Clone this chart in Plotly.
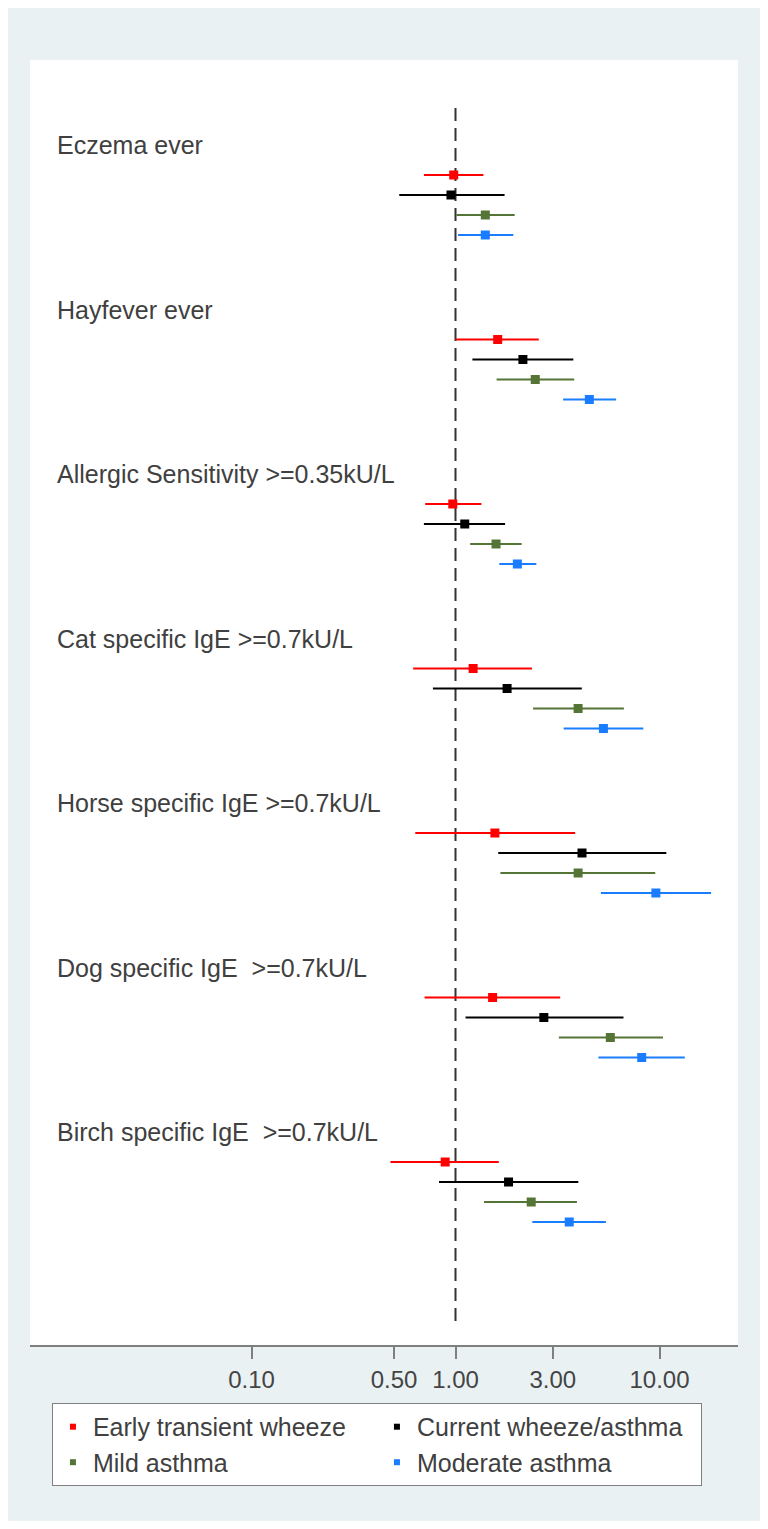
import plotly.graph_objects as go

outcomes = ["Eczema ever", "Hayfever ever", "Allergic Sensitivity >=0.35kU/L",
            "Cat specific IgE >=0.7kU/L", "Horse specific IgE >=0.7kU/L",
            "Dog specific IgE  >=0.7kU/L", "Birch specific IgE  >=0.7kU/L"]

groups = ["Early transient wheeze", "Current wheeze/asthma", "Mild asthma", "Moderate asthma"]
colors = ["#ff0000", "#000000", "#557536", "#1a7cff"]

# odds ratios and 95% CI per phenotype (one value per outcome)
or_early = [0.98, 1.61, 0.97, 1.22, 1.56, 1.52, 0.89]
lo_early = [0.70, 1.00, 0.71, 0.62, 0.635, 0.705, 0.48]
hi_early = [1.37, 2.56, 1.34, 2.37, 3.86, 3.26, 1.63]

or_current = [0.95, 2.14, 1.11, 1.79, 4.17, 2.71, 1.82]
lo_current = [0.53, 1.21, 0.70, 0.775, 1.62, 1.12, 0.83]
hi_current = [1.74, 3.78, 1.75, 4.16, 10.8, 6.66, 4.00]

or_mild = [1.40, 2.46, 1.58, 3.99, 3.99, 5.74, 2.35]
lo_mild = [1.01, 1.59, 1.18, 2.40, 1.66, 3.21, 1.38]
hi_mild = [1.95, 3.82, 2.11, 6.69, 9.53, 10.4, 3.94]

or_mod = [1.40, 4.53, 2.01, 5.31, 9.60, 8.18, 3.61]
lo_mod = [1.03, 3.37, 1.64, 3.39, 5.16, 5.02, 2.38]
hi_mod = [1.92, 6.13, 2.49, 8.33, 17.9, 13.3, 5.46]

tick_vals = [0.1, 0.5, 1, 3, 10]
tick_text = ["0.10", "0.50", "1.00", "3.00", "10.00"]

series = [(or_early, lo_early, hi_early), (or_current, lo_current, hi_current),
          (or_mild, lo_mild, hi_mild), (or_mod, lo_mod, hi_mod)]

GROUP_STEP = 8.225
FONT = "Arial, Liberation Sans, sans-serif"

fig = go.Figure()

# reference line at OR = 1
fig.add_trace(go.Scatter(x=[1, 1], y=[-3.35, 57.65], mode="lines",
                         line=dict(color="#333333", width=2, dash="13px,7px"),
                         showlegend=False, hoverinfo="skip"))

for r, (name, col, (pt, lo, hi)) in enumerate(zip(groups, colors, series)):
    ys = [g * GROUP_STEP + r for g in range(len(outcomes))]
    fig.add_trace(go.Scatter(
        x=pt, y=ys, mode="markers", name=name, showlegend=False,
        marker=dict(symbol="square", size=9, color=col, line=dict(width=0)),
        error_x=dict(type="data", symmetric=False,
                     array=[h - p for h, p in zip(hi, pt)],
                     arrayminus=[p - l for p, l in zip(pt, lo)],
                     color=col, thickness=1.8, width=0)))
    # legend entry
    fig.add_trace(go.Scatter(x=[None], y=[None], mode="markers", name=name,
                             marker=dict(symbol="square", size=6, color=col)))

for g, lab in enumerate(outcomes):
    fig.add_annotation(x=0.036, xref="paper", y=g * GROUP_STEP - 1.5, yref="y",
                       text=lab, showarrow=False, xanchor="left", yanchor="middle",
                       font=dict(family=FONT, size=25, color="#404040"))

W, H = 755, 1513
L, R, T, B = 22, 25, 52, 176
one_px, dec_px = 447.5, 204          # fig-pixel of OR=1 and px per decade
xr = [(L - one_px) / dec_px, (W - R - one_px) / dec_px]

fig.update_layout(
    width=W, height=H,
    margin=dict(l=L, r=R, t=T, b=B),
    paper_bgcolor="#eaf1f3", plot_bgcolor="white",
    font=dict(family=FONT, color="#444444"),
    xaxis=dict(type="log", range=xr, tickvals=tick_vals, ticktext=tick_text,
               showgrid=False, zeroline=False, showline=True, linecolor="#7f7f7f",
               linewidth=1.5, ticks="outside", ticklen=12, tickcolor="#7f7f7f",
               tickwidth=1.5, tickfont=dict(size=24, color="#444444", family=FONT)),
    yaxis=dict(range=[58.5, -5.75], visible=False, showgrid=False, zeroline=False),
    legend=dict(orientation="h", x=0.031, xanchor="left", y=-0.0451, yanchor="top",
                entrywidth=279, itemwidth=30, bgcolor="white", bordercolor="#7f7f7f",
                borderwidth=1, font=dict(size=25, color="#404040", family=FONT),
                itemsizing="trace", tracegroupgap=0),
)

fig.write_html("out.html")
